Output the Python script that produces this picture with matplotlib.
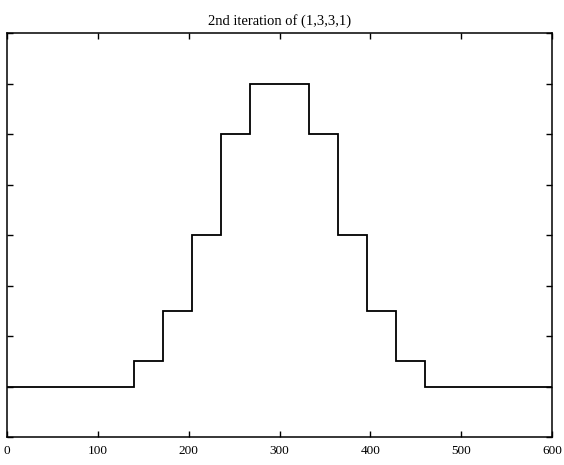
import matplotlib
matplotlib.use("Agg")
import matplotlib.pyplot as plt

# Data
edges = [0, 140, 172, 204, 236, 268, 300, 332, 364, 396, 428, 460, 600]
values = [0, 1, 3, 6, 10, 12, 12, 10, 6, 3, 1, 0]
xticks = [0, 100, 200, 300, 400, 500, 600]
yticks = [-2, 0, 2, 4, 6, 8, 10, 12, 14]
title = "2nd iteration of (1,3,3,1)"

plt.rcParams['font.family'] = ['Liberation Serif', 'DejaVu Serif']

fig = plt.figure(figsize=(5.64, 4.65), dpi=100)
ax = fig.add_axes([7/564, 1 - 437/465, (552-7)/564, (437-33)/465])

ax.stairs(values, edges, color='black', linewidth=1.3)

ax.set_xlim(0, 600)
ax.set_ylim(-2, 14)
ax.set_xticks(xticks)
ax.set_xticklabels([str(t) for t in xticks], fontsize=9.5)
ax.set_yticks(yticks)
ax.set_yticklabels([str(t) for t in yticks], fontsize=9.5)
ax.tick_params(direction='in', top=True, right=True, length=4, width=1, pad=6)
for s in ax.spines.values():
    s.set_linewidth(1.1)
ax.set_title(title, fontsize=10.5, pad=6)

fig.savefig("out.png", dpi=100)
